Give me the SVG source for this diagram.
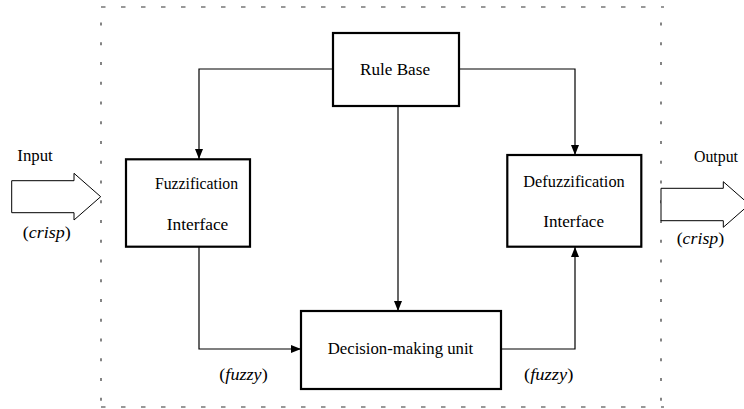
<svg xmlns="http://www.w3.org/2000/svg" width="744" height="409" viewBox="0 0 744 409">
<defs>
<marker id="ah" markerUnits="userSpaceOnUse" markerWidth="10" markerHeight="8" refX="10" refY="4" orient="auto">
<path d="M0,0 L10,4 L0,8 z" fill="#000"/>
</marker>
<style>
.box{fill:#fff;stroke:#000;stroke-width:2.2}
.con{fill:none;stroke:#000;stroke-width:1.2}
.bd{fill:none;stroke:#333;stroke-width:1.2}
.t{font-family:"Liberation Serif","Times New Roman",serif;font-size:17.5px;fill:#000}
.blk{fill:#fff;stroke:#000;stroke-width:1}
</style>
</defs>
<rect width="744" height="409" fill="#fff"/>
<g id="boundary">
<line class="bd" x1="101" y1="7" x2="664" y2="7" stroke-dasharray="4.5 15.5"/>
<line class="bd" x1="101" y1="407" x2="664" y2="407" stroke-dasharray="4.5 15.5"/>
<line class="bd" x1="101" y1="22.5" x2="101" y2="402" stroke-dasharray="3 16.75"/>
<line class="bd" x1="661" y1="22.5" x2="661" y2="402" stroke-dasharray="3 16.75"/>
</g>
<g id="connectors">
<path class="con" d="M333,69 H199 V159" marker-end="url(#ah)"/>
<path class="con" d="M459,69 H575 V155" marker-end="url(#ah)"/>
<path class="con" d="M398,106 V311" marker-end="url(#ah)"/>
<path class="con" d="M199,247 V349 H301" marker-end="url(#ah)"/>
<path class="con" d="M501,349 H575 V247" marker-end="url(#ah)"/>
</g>
<g id="input">
<polygon class="blk" points="11.7,180.7 74,180.7 74,173.3 100.7,196.7 74,220 74,212.7 11.7,212.7"/>
<text class="t" x="17.3" y="160.5" textLength="35.5" lengthAdjust="spacingAndGlyphs">Input</text>
<text class="t" x="22.7" y="237.5" textLength="48" lengthAdjust="spacingAndGlyphs">(<tspan font-style="italic">crisp</tspan>)</text>
</g>
<g id="output">
<polygon class="blk" points="661,188.3 723.3,188.3 723.3,181.7 749.3,204.5 723.3,227.3 723.3,220.7 661,220.7"/>
<text class="t" x="694" y="162.3" textLength="44" lengthAdjust="spacingAndGlyphs">Output</text>
<text class="t" x="676.7" y="243.5" textLength="47.5" lengthAdjust="spacingAndGlyphs">(<tspan font-style="italic">crisp</tspan>)</text>
</g>
<g id="rule-base">
<rect class="box" x="333" y="33" width="126" height="73"/>
<text class="t" x="360" y="75" textLength="70" lengthAdjust="spacingAndGlyphs">Rule Base</text>
</g>
<g id="fuzzification">
<rect class="box" x="126" y="159.3" width="124" height="87.4"/>
<text class="t" x="155" y="189" textLength="83" lengthAdjust="spacingAndGlyphs">Fuzzification</text>
<text class="t" x="166.7" y="230" textLength="61.6" lengthAdjust="spacingAndGlyphs">Interface</text>
</g>
<g id="defuzzification">
<rect class="box" x="507.3" y="155" width="134" height="91.7"/>
<text class="t" x="523.3" y="186.5" textLength="101.4" lengthAdjust="spacingAndGlyphs">Defuzzification</text>
<text class="t" x="543.3" y="226.7" textLength="60.7" lengthAdjust="spacingAndGlyphs">Interface</text>
</g>
<g id="decision">
<rect class="box" x="301" y="311" width="200" height="78"/>
<text class="t" x="327.7" y="354.3" textLength="145.6" lengthAdjust="spacingAndGlyphs">Decision-making unit</text>
</g>
<g id="labels">
<text class="t" x="219.3" y="380" textLength="48.4" lengthAdjust="spacingAndGlyphs">(<tspan font-style="italic">fuzzy</tspan>)</text>
<text class="t" x="524" y="380" textLength="49.3" lengthAdjust="spacingAndGlyphs">(<tspan font-style="italic">fuzzy</tspan>)</text>
</g>
</svg>
